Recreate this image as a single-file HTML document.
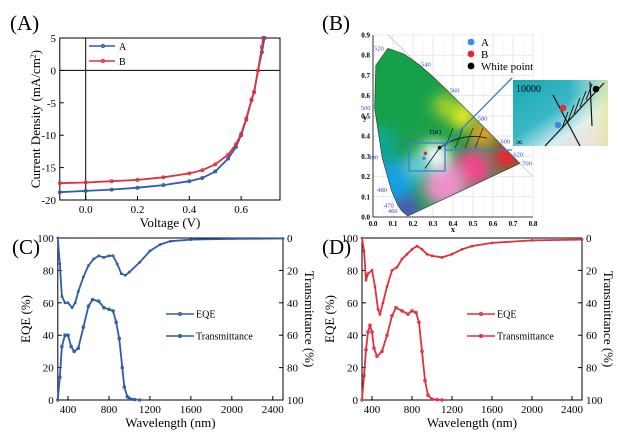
<!DOCTYPE html>
<html><head><meta charset="utf-8"><style>
body{margin:0;background:#fff}
svg{display:block;font-family:"Liberation Serif",serif}
</style></head><body>
<svg id="fig" width="624" height="434" viewBox="0 0 624 434" xmlns="http://www.w3.org/2000/svg">
<defs>
<filter id="blur" x="-50%" y="-50%" width="200%" height="200%"><feGaussianBlur stdDeviation="7"/></filter>
<linearGradient id="insetg" x1="0" y1="0" x2="1" y2="1"><stop offset="0" stop-color="#16a8b0"/><stop offset="0.45" stop-color="#3bb8c8"/><stop offset="0.7" stop-color="#d8eef0"/><stop offset="1" stop-color="#f0c8d0"/></linearGradient>
<linearGradient id="insetg2" x1="0" y1="0" x2="1" y2="0"><stop offset="0.6" stop-color="#fff" stop-opacity="0"/><stop offset="1" stop-color="#e8e8a0" stop-opacity="0.8"/></linearGradient>
</defs>
<g id="root"></g>
</svg>
<script>
// ===== Panel A data =====
const jvVoltA=[-0.1,0,0.1,0.2,0.3,0.4,0.45,0.5,0.55,0.58,0.6,0.62,0.64,0.65,0.665,0.68,0.69];
const jvCurA=[-18.8,-18.6,-18.4,-18.1,-17.7,-17.1,-16.6,-15.6,-13.6,-11.8,-10.0,-7.6,-4.6,-3.3,0,2.8,5];
const jvVoltB=[-0.1,0,0.1,0.2,0.3,0.4,0.45,0.5,0.55,0.58,0.6,0.62,0.64,0.65,0.665,0.68,0.685];
const jvCurB=[-17.4,-17.3,-17.1,-16.9,-16.5,-15.9,-15.4,-14.5,-13.0,-11.4,-9.8,-7.4,-4.5,-3.4,0,3.6,5];
const aXTicks=[0.0,0.2,0.4,0.6];
const aYTicks=[5,0,-5,-10,-15,-20];
// ===== Panel B data =====
const locusX=[0.1741,0.1440,0.1241,0.0913,0.0454,0.0082,0.0139,0.0743,0.1547,0.2296,0.3016,0.3731,0.4441,0.5125,0.5752,0.6270,0.6915,0.7347];
const locusY=[0.0050,0.0297,0.0578,0.1327,0.2950,0.5384,0.7502,0.8338,0.8059,0.7543,0.6923,0.6245,0.5547,0.4866,0.4242,0.3725,0.3083,0.2653];
const locusLabels=["","460","470","480","490","500","","520","","540","","560","","580","","600","620","700"];
const ptNames=["A","B","White point"];
const ptX=[0.255,0.262,0.333];
const ptY=[0.29,0.315,0.343];
const bXTicks=[0.0,0.1,0.2,0.3,0.4,0.5,0.6,0.7,0.8];
const bYTicks=[0.0,0.1,0.2,0.3,0.4,0.5,0.6,0.7,0.8,0.9];
// ===== Panel C data =====
const eqeWlC=[300,320,340,370,400,430,460,500,550,600,640,700,750,800,840,870,900,930,950,980,1000,1050,1100];
const eqeC=[0,14,33,40,40,33,30,32,45,58,62,61,57,56,55,48,38,20,8,2,1,0.3,0];
const trWlC=[300,320,340,370,400,440,470,500,550,600,650,700,750,800,840,880,920,960,1000,1100,1200,1300,1400,1600,2000,2500];
const trC=[0,16,36,40,40,43,40,33,24,17,13,11,12,11,11,16,22,23,21,15,8,4,2,1,0.5,0.3];
// ===== Panel D data =====
const eqeWlD=[300,320,340,360,380,400,420,450,500,550,600,640,700,760,800,840,870,900,930,960,1000,1050,1100];
const eqeD=[0,15,31,42,46,42,32,27,30,40,52,57,55,53,55,54,48,30,12,3,0.5,0.2,0];
const trWlD=[300,320,340,360,400,430,460,480,510,550,600,650,700,750,800,850,900,950,1000,1100,1200,1300,1400,1600,2000,2500];
const trD=[0,8,26,22,20,30,44,47,40,30,20,18,13,10,7,5,7,10,11,12,10,7,5,3,1.5,1];
const wlTicks=[400,800,1200,1600,2000,2400];
const eqeTicks=[0,20,40,60,80,100];

const NS="http://www.w3.org/2000/svg";
const root=document.getElementById('root');
function mk(tag,attrs,parent,txt){const e=document.createElementNS(NS,tag);for(const k in attrs)e.setAttribute(k,attrs[k]);if(txt!==undefined)e.textContent=txt;(parent||root).appendChild(e);return e;}
function scale(d0,d1,r0,r1){return v=>r0+(v-d0)/(d1-d0)*(r1-r0);}
function poly(xs,ys,fx,fy){return xs.map((v,i)=>fx(v).toFixed(1)+','+fy(ys[i]).toFixed(1)).join(' ');}

// ---------- Panel A ----------
(function(){
const g=mk('g',{});

const fx=scale(-0.1,0.75,59.8,280), fy=scale(5,-20,38,200);
const t=mk('text',{x:10,y:30,'font-size':21},g,'(A)');

const fr=mk('rect',{x:59.8,y:38,width:220.2,height:162,fill:'none',stroke:'#000','stroke-width':1},g);

const z1=mk('line',{x1:59.8,x2:280,y1:fy(0),y2:fy(0),stroke:'#000'},g);

const z2=mk('line',{x1:fx(0),x2:fx(0),y1:38,y2:200,stroke:'#000'},g);

aXTicks.forEach(v=>{mk('line',{x1:fx(v),x2:fx(v),y1:200,y2:196,stroke:'#000'},g);
 const l=mk('text',{x:fx(v),y:213,'font-size':11,'text-anchor':'middle'},g,v.toFixed(1));
 });
aYTicks.forEach(v=>{mk('line',{x1:59.8,x2:63.8,y1:fy(v),y2:fy(v),stroke:'#000'},g);
 const l=mk('text',{x:56,y:fy(v)+4,'font-size':11,'text-anchor':'end'},g,String(v));
 });
const xt=mk('text',{x:170,y:227,'font-size':13,'text-anchor':'middle'},g,'Voltage (V)');

const yt=mk('text',{x:0,y:0,'font-size':13,'text-anchor':'middle',transform:'translate(40,119) rotate(-90)'},g);

yt.innerHTML='Current Density (mA/cm<tspan baseline-shift="super" font-size="8">2</tspan>)';
[[jvVoltA,jvCurA,'#2d5da8','series-a'],[jvVoltB,jvCurB,'#e03040','series-b']].forEach(s=>{
 const p=mk('polyline',{points:poly(s[0],s[1],fx,fy),fill:'none',stroke:s[2],'stroke-width':1.8},g);
 
 s[0].forEach((v,i)=>{const c=mk('circle',{cx:fx(v),cy:fy(s[1][i]),r:1.5,fill:'none',stroke:s[2],'stroke-width':0.9},g);
  });
});
[['A','#2d5da8',46],['B','#e03040',61]].forEach(l=>{
 const lg=mk('g',{},g);
 mk('line',{x1:89,x2:115,y1:l[2],y2:l[2],stroke:l[1],'stroke-width':1.6},lg);
 mk('circle',{cx:103,cy:l[2],r:1.6,fill:'none',stroke:l[1]},lg);
 mk('text',{x:119,y:l[2]+4,'font-size':10},lg,l[0]);
});
})();

// ---------- Panel B ----------
(function(){
const g=mk('g',{});

const fx=scale(0,0.8,373,533), fy=scale(0,0.9,217,35);
const t=mk('text',{x:322,y:30,'font-size':21},g,'(B)');

bXTicks.forEach(v=>{mk('line',{x1:fx(v),x2:fx(v),y1:fy(0),y2:fy(0.9),stroke:'#ddd','stroke-width':0.6},g);
 mk('line',{x1:fx(v+0.05),x2:fx(v+0.05),y1:fy(0),y2:fy(0.9),stroke:'#eee','stroke-width':0.5},g);
 const l=mk('text',{x:fx(v),y:226,'font-size':7,'font-weight':'bold','text-anchor':'middle'},g,v.toFixed(1));
 });
bYTicks.forEach(v=>{mk('line',{x1:fx(0),x2:fx(0.8),y1:fy(v),y2:fy(v),stroke:'#ddd','stroke-width':0.6},g);
 const l=mk('text',{x:fx(0)-3,y:fy(v)+2.5,'font-size':7,'font-weight':'bold','text-anchor':'end'},g,v.toFixed(1));
 });
mk('line',{x1:fx(0),x2:fx(0),y1:fy(0),y2:fy(0.9),stroke:'#000','stroke-width':0.8},g);
mk('line',{x1:fx(0),x2:fx(0.8),y1:fy(0),y2:fy(0),stroke:'#000','stroke-width':0.8},g);
mk('text',{x:fx(0.4),y:232,'font-size':8,'font-weight':'bold','text-anchor':'middle'},g,'x');
mk('text',{x:fx(0)-10,y:fy(0.48),'font-size':8,'font-weight':'bold'},g,'y');
mk('line',{x1:fx(0.0743),x2:fx(0.8),y1:fy(0.9),y2:fy(0.2),stroke:'#bbb','stroke-width':0.7},g);
const pts=poly(locusX,locusY,fx,fy);
const cp=mk('clipPath',{id:'horse'},g);
mk('polygon',{points:pts},cp);
const cg=mk('g',{'clip-path':'url(#horse)'},g);

mk('rect',{x:370,y:30,width:170,height:190,fill:'#1f9e48'},cg);
const blobs=[[0.12,0.62,45,'#18a048'],[0.04,0.36,18,'#10a890'],[0.1,0.17,24,'#18a0e0'],[0.17,0.04,12,'#5a48c8'],[0.36,0.55,12,'#a8d030'],[0.45,0.5,13,'#f4f020'],[0.55,0.41,13,'#f8a020'],[0.67,0.3,15,'#f02030'],[0.5,0.24,20,'#ec4a88'],[0.36,0.16,22,'#ec90c8'],[0.31,0.3,15,'#ffffff'],[0.22,0.25,12,'#70d0e0']];
blobs.forEach(b=>mk('circle',{cx:fx(b[0]),cy:fy(b[1]),r:b[2],fill:b[3],filter:'url(#blur)'},cg));
const hp=mk('polygon',{points:pts,fill:'none',stroke:'#333','stroke-width':0.6},g);

locusLabels.forEach((s,i)=>{if(!s)return;const dx=locusX[i]<0.2?-9:7;
 const l=mk('text',{x:fx(locusX[i])+dx,y:fy(locusY[i])+2,'font-size':6.5,fill:'#4050b0','text-anchor':'middle'},g,s);
 });
const pl=mk('path',{d:`M${fx(0.26)},${fy(0.24)} L${fx(0.333)},${fy(0.343)} Q${fx(0.45)},${fy(0.42)} ${fx(0.57)},${fy(0.39)}`,fill:'none',stroke:'#111','stroke-width':0.8},g);

[0.38,0.43,0.48,0.53].forEach(v=>mk('line',{x1:fx(v-0.02),x2:fx(v+0.02),y1:fy(0.34),y2:fy(0.44),stroke:'#111','stroke-width':0.6},g));
mk('text',{x:fx(0.28),y:fy(0.41),'font-size':6},g,'T(K)');
const cols=['#3a8de0','#e02a30','#000'];
ptX.forEach((v,i)=>{const c=mk('circle',{cx:fx(v),cy:fy(ptY[i]),r:1.8,fill:cols[i]},g);
 });
const zb=mk('rect',{x:409,y:143,width:36,height:28,fill:'none',stroke:'#3a7fd0','stroke-width':1.3},g);

mk('line',{x1:445,y1:146,x2:512,y2:78,stroke:'#3a7fd0','stroke-width':1.3},g);
mk('line',{x1:445,y1:150,x2:512,y2:150,stroke:'#3a7fd0','stroke-width':1.3},g);
const ig=mk('g',{},g);
mk('rect',{x:513,y:80,width:95,height:66,fill:'url(#insetg)'},ig);
mk('rect',{x:513,y:80,width:95,height:66,fill:'url(#insetg2)'},ig);
mk('line',{x1:545,y1:146,x2:604,y2:83,stroke:'#111','stroke-width':1.2},ig);
mk('line',{x1:553,y1:95,x2:580,y2:146,stroke:'#111','stroke-width':1.2},ig);
mk('line',{x1:590,y1:82,x2:592,y2:126,stroke:'#111','stroke-width':1.2},ig);
[0,1,2,3,4].forEach(k=>mk('line',{x1:562+k*6,y1:128-k*7,x2:568+k*6,y2:112-k*7,stroke:'#111','stroke-width':1},ig));
mk('text',{x:516,y:92,'font-size':10},ig,'10000');
mk('text',{x:516,y:145,'font-size':9},ig,'∞');
mk('circle',{cx:563,cy:108,r:3.3,fill:'#e52a30'},ig);
mk('circle',{cx:558,cy:125,r:3.3,fill:'#3a8de0'},ig);
mk('circle',{cx:596,cy:89,r:3.3,fill:'#000'},ig);
ptNames.forEach((n,i)=>{const lg=mk('g',{},g);
 mk('circle',{cx:471,cy:42+i*12,r:3.4,fill:cols[i]},lg);
 mk('text',{x:481,y:46+i*12,'font-size':11},lg,n);});
})();

// ---------- Panels C & D ----------
function spectral(o){
const g=mk('g',{});

const fx=scale(300,2500,o.x0,o.x1), fy=scale(0,100,400,238), ft=scale(0,100,238,400);
const t=mk('text',{x:o.lx,y:254,'font-size':21},g,o.label);

const fr=mk('rect',{x:o.x0,y:238,width:o.x1-o.x0,height:162,fill:'none',stroke:'#000'},g);

wlTicks.forEach(v=>{mk('line',{x1:fx(v),x2:fx(v),y1:400,y2:396,stroke:'#000'},g);
 const l=mk('text',{x:fx(v),y:413,'font-size':11,'text-anchor':'middle'},g,String(v));
 });
eqeTicks.forEach(v=>{mk('line',{x1:o.x0,x2:o.x0+4,y1:fy(v),y2:fy(v),stroke:'#000'},g);
 mk('line',{x1:o.x1,x2:o.x1-4,y1:fy(v),y2:fy(v),stroke:'#000'},g);
 const l=mk('text',{x:o.x0-4,y:fy(v)+4,'font-size':11,'text-anchor':'end'},g,String(v));
 
 const r=mk('text',{x:o.x1+4,y:ft(v)+4,'font-size':11},g,String(v));
 });
const xt=mk('text',{x:(o.x0+o.x1)/2,y:427,'font-size':13,'text-anchor':'middle'},g,'Wavelength (nm)');

const yl=mk('text',{x:0,y:0,'font-size':13,'text-anchor':'middle',transform:`translate(${o.x0-28},319) rotate(-90)`},g,'EQE (%)');

const yr=mk('text',{x:0,y:0,'font-size':13,'text-anchor':'middle',transform:`translate(${o.x1+22},319) rotate(90)`},g,'Transmittance (%)');

const e=mk('polyline',{points:poly(o.ew,o.ev,fx,fy),fill:'none',stroke:o.c,'stroke-width':1.8},g);

o.ew.forEach((v,i)=>{const m=mk('circle',{cx:fx(v),cy:fy(o.ev[i]),r:1.4,fill:'none',stroke:o.c,'stroke-width':0.8},g);
 });
const tr=mk('polyline',{points:poly(o.tw,o.tv,fx,ft),fill:'none',stroke:o.c,'stroke-width':1.8},g);

o.tw.forEach((v,i)=>{const m=mk('circle',{cx:fx(v),cy:ft(o.tv[i]),r:1.4,fill:o.c},g);
 });
[['EQE',314,'none'],['Transmittance',336,o.c]].forEach(l=>{const lg=mk('g',{},g);
 
 mk('line',{x1:o.legx,x2:o.legx+28,y1:l[1],y2:l[1],stroke:o.c,'stroke-width':1.6},lg);
 mk('circle',{cx:o.legx+14,cy:l[1],r:1.5,fill:l[2],stroke:o.c},lg);
 mk('text',{x:o.legx+30,y:l[1]+3.5,'font-size':10},lg,l[0]);});
}
spectral({name:'panel-c-spectra',label:'(C)',lx:12,x0:57.8,x1:283,ew:eqeWlC,ev:eqeC,tw:trWlC,tv:trC,c:'#2d5da8',legx:166});
spectral({name:'panel-d-spectra',label:'(D)',lx:322,x0:362,x1:582,ew:eqeWlD,ev:eqeD,tw:trWlD,tv:trD,c:'#e03040',legx:467});
</script>
</body></html>
